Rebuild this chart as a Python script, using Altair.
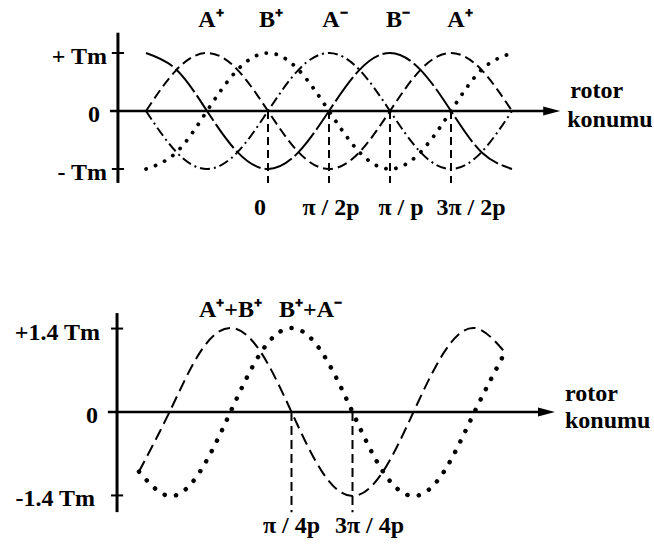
import altair as alt
import pandas as pd

# Rotor position, in steps of pi/2p (a quarter of one electrical period)
POS = [-2, -1.5, -1, -0.5, 0, 0.5, 1, 1.5, 2, 2.5, 3, 3.5, 4]

# Single-phase torques, in units of Tm
T_A_PLUS = [0, 0.71, 1, 0.71, 0, -0.71, -1, -0.71, 0, 0.71, 1, 0.71, 0]
T_B_PLUS = [-1, -0.71, 0, 0.71, 1, 0.71, 0, -0.71, -1, -0.71, 0, 0.71, 1]
T_A_MINUS = [0, -0.71, -1, -0.71, 0, 0.71, 1, 0.71, 0, -0.71, -1, -0.71, 0]
T_B_MINUS = [1, 0.71, 0, -0.71, -1, -0.71, 0, 0.71, 1, 0.71, 0, -0.71, -1]

# Two phases excited together
T_AP_BP = [-1, 0, 1, 1.41, 1, 0, -1, -1.41, -1, 0, 1, 1.41, 1]
T_BP_AM = [-1, -1.41, -1, 0, 1, 1.41, 1, 0, -1, -1.41, -1, 0, 1]

# Labels
PEAK_POS = [-1, 0, 1, 2, 3]
PEAK_LABELS = ["A⁺", "B⁺", "A⁻", "B⁻", "A⁺"]
SUM_POS = [-0.5, 0.5]
SUM_LABELS = ["A⁺+B⁺", "B⁺+A⁻"]

TOP_TICK_POS = [0, 1, 2, 3]
TOP_TICK_LABELS = ["0", "π / 2p", "π / p", "3π / 2p"]
BOTTOM_TICK_POS = [0.5, 1.5]
BOTTOM_TICK_LABELS = ["π / 4p", "3π / 4p"]

TOP_Y_TICKS = [1, 0, -1]
TOP_Y_LABELS = ["+ Tm", "0", "- Tm"]
BOTTOM_Y_TICKS = [1.4, 0, -1.4]
BOTTOM_Y_LABELS = ["+1.4 Tm", "0", "-1.4 Tm"]

AXIS_NAME = ["rotor", "konumu"]

# ---------------------------------------------------------------- layout
W, H = 654, 546
FONT = "Liberation Serif, Times New Roman, serif"
FS = 24


def span(origin, unit, size, flip=False):
    """Scale domain that puts value 0 at `origin` px with `unit` px per step."""
    if flip:
        return [(origin - size) / unit, origin / unit]
    return [-origin / unit, (size - origin) / unit]


top_xs = alt.Scale(domain=span(268, 61, W), nice=False, zero=False)
top_ys = alt.Scale(domain=span(111, 58, H, flip=True), nice=False, zero=False)
bot_xs = alt.Scale(domain=span(261, 61, W), nice=False, zero=False)
bot_ys = alt.Scale(domain=span(412, 59.6, H, flip=True), nice=False, zero=False)


def enc(xs, ys):
    return dict(
        x=alt.X("u:Q", scale=xs, axis=None),
        y=alt.Y("v:Q", scale=ys, axis=None),
    )


def curve(vals, xs, ys, dash, width, cap="butt"):
    df = pd.DataFrame({"u": POS, "v": vals})
    return alt.Chart(df).mark_line(
        interpolate="natural", color="black", strokeWidth=width,
        strokeDash=dash, strokeCap=cap,
    ).encode(**enc(xs, ys))


def segs(rows, xs, ys, width, dash=None):
    df = pd.DataFrame(rows, columns=["u", "v", "u2", "v2"])
    kw = dict(color="black", strokeWidth=width)
    if dash:
        kw["strokeDash"] = dash
    return alt.Chart(df).mark_rule(**kw).encode(
        **enc(xs, ys), x2="u2:Q", y2="v2:Q"
    )


ARROW = "M0,0 L-1,-0.27 L-1,0.27 Z"


def arrow(u, xs, ys):
    return alt.Chart(pd.DataFrame({"u": [u], "v": [0]})).mark_point(
        shape=ARROW, filled=True, size=1156, color="black", opacity=1
    ).encode(**enc(xs, ys))


def label(text, u, v, xs, ys, dx=0, dy=0, align="center", baseline="alphabetic"):
    df = pd.DataFrame({"u": [u], "v": [v], "t": [text]})
    return alt.Chart(df).mark_text(
        font=FONT, fontSize=FS, fontWeight="bold", color="black",
        align=align, baseline=baseline, dx=dx, dy=dy,
    ).encode(**enc(xs, ys), text="t:N")


# ---------------------------------------------------------------- upper plot
ty_axis_u = -2.46
top = [
    segs([[ty_axis_u, 1.35, ty_axis_u, -1.24]], top_xs, top_ys, 3),
    segs([[-2.59, 0, 4.55, 0]], top_xs, top_ys, 2.5),
    segs([[ty_axis_u - 0.1, t, ty_axis_u + 0.1, t] for t in TOP_Y_TICKS if t != 0]
         + [[ty_axis_u - 0.1, 0, ty_axis_u, 0]], top_xs, top_ys, 2),
    segs([[p, 0, p, -1.24] for p in TOP_TICK_POS], top_xs, top_ys, 2, [8, 5]),
    arrow(4.79, top_xs, top_ys),
    curve(T_A_PLUS, top_xs, top_ys, [10, 5], 2),
    curve(T_B_PLUS, top_xs, top_ys, [0.1, 10], 3.8, "round"),
    curve(T_A_MINUS, top_xs, top_ys, [10, 4, 2, 4], 2),
    curve(T_B_MINUS, top_xs, top_ys, [30, 4], 2),
]
for text, p, dx in zip(PEAK_LABELS, PEAK_POS, [4, 3, 6, 8, 9]):
    top.append(label(text, p, 1.45, top_xs, top_ys, dx=dx))
for text, p, dx in zip(TOP_TICK_LABELS, TOP_TICK_POS, [-8, 2, 11, 20]):
    top.append(label(text, p, -1.79, top_xs, top_ys, dx=dx))
for text, t, dx in zip(TOP_Y_LABELS, TOP_Y_TICKS, [-11, -18, -11]):
    top.append(label(text, ty_axis_u, t, top_xs, top_ys, dx=dx, dy=4,
                     align="right", baseline="middle"))
top.append(label(AXIS_NAME[0], 4.79, 0, top_xs, top_ys, dx=10, dy=-13, align="left"))
top.append(label(AXIS_NAME[1], 4.79, 0, top_xs, top_ys, dx=7, dy=16, align="left"))

# ---------------------------------------------------------------- lower plot
by_axis_u = -2.36
bottom = [
    segs([[by_axis_u, 1.66, by_axis_u, -1.68]], bot_xs, bot_ys, 3),
    segs([[-2.51, 0, 4.55, 0]], bot_xs, bot_ys, 2.5),
    segs([[by_axis_u - 0.1, t, by_axis_u + 0.1, t] for t in BOTTOM_Y_TICKS if t != 0]
         + [[by_axis_u - 0.1, 0, by_axis_u, 0]], bot_xs, bot_ys, 2),
    segs([[p, 0, p, -1.68] for p in BOTTOM_TICK_POS], bot_xs, bot_ys, 2, [9, 5]),
    arrow(4.82, bot_xs, bot_ys),
    curve(T_AP_BP, bot_xs, bot_ys, [12, 6], 2),
    curve(T_BP_AM, bot_xs, bot_ys, [0.1, 11.5], 4.5, "round"),
]
for text, p, dx in zip(SUM_LABELS, SUM_POS, [0, 19]):
    bottom.append(label(text, p, 1.59, bot_xs, bot_ys, dx=dx))
for text, p, dx in zip(BOTTOM_TICK_LABELS, BOTTOM_TICK_POS, [0, 17]):
    bottom.append(label(text, p, -2.03, bot_xs, bot_ys, dx=dx))
for text, t, dx in zip(BOTTOM_Y_LABELS, BOTTOM_Y_TICKS, [-17, -19, -22]):
    bottom.append(label(text, by_axis_u, t, bot_xs, bot_ys, dx=dx, dy=4,
                        align="right", baseline="middle"))
bottom.append(label(AXIS_NAME[0], 4.82, 0, bot_xs, bot_ys, dx=10, dy=-11, align="left"))
bottom.append(label(AXIS_NAME[1], 4.82, 0, bot_xs, bot_ys, dx=10, dy=16, align="left"))

chart = (
    alt.layer(alt.layer(*top), alt.layer(*bottom))
    .resolve_scale(x="independent", y="independent")
    .properties(width=W, height=H, autosize=alt.AutoSizeParams(type="none"), padding=0,
                background="white")
    .configure_view(stroke=None)
)

chart.save("out.html", embed_options={"renderer": "svg", "actions": False})
